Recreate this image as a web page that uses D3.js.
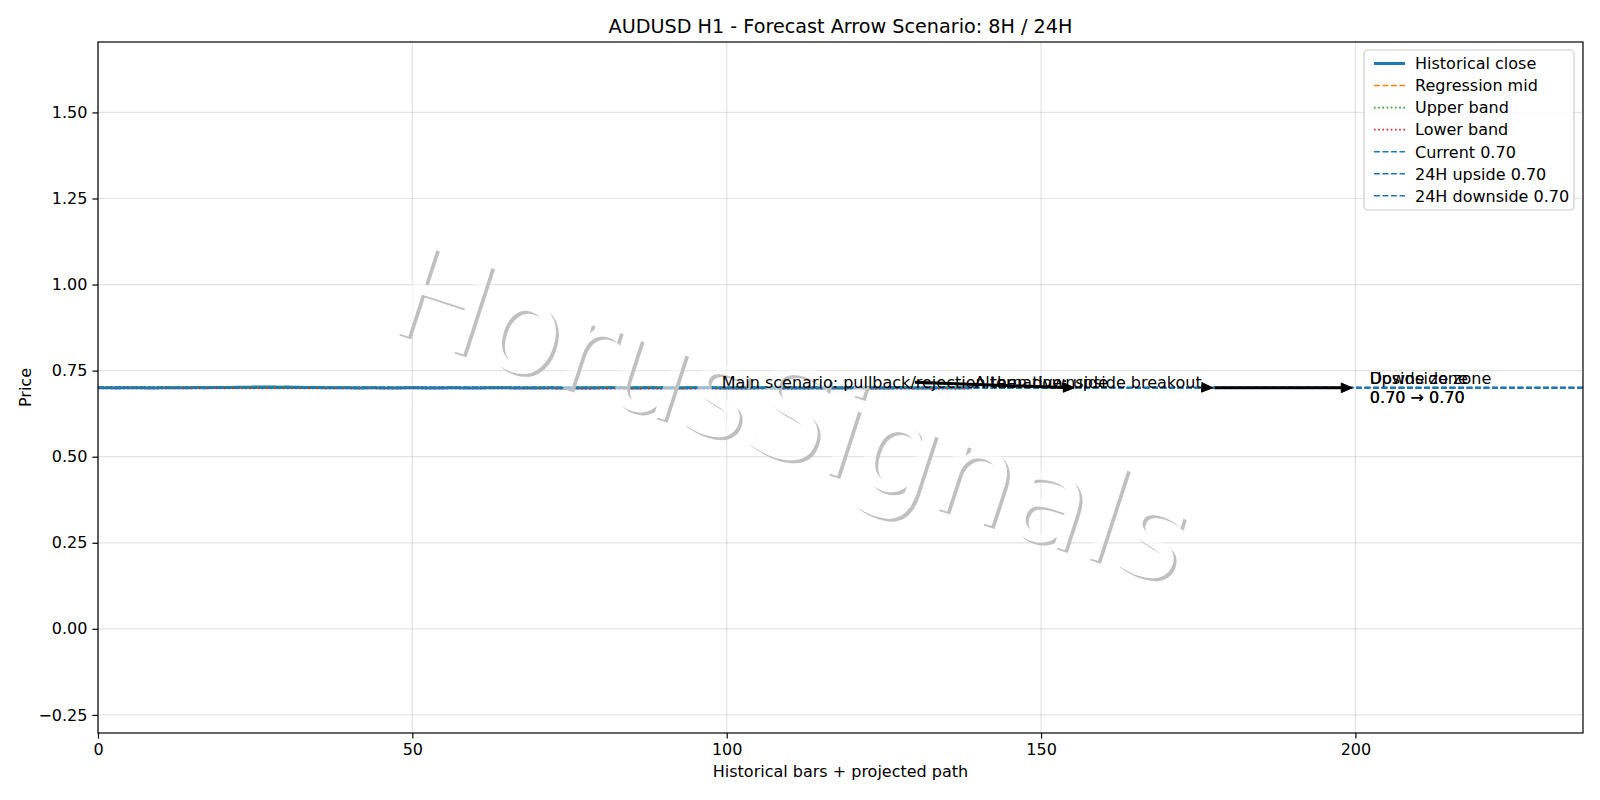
<!DOCTYPE html>
<html><head><meta charset="utf-8">
<script src="https://cdn.jsdelivr.net/npm/d3@7"></script>
<style>body{margin:0;background:#fff} svg{display:block} text{font-family:"DejaVu Sans",sans-serif}</style>
</head><body><svg id="chart" width="1600" height="800"></svg>
<script>
const chartTitle = "AUDUSD H1 - Forecast Arrow Scenario: 8H / 24H";
const xLabel = "Historical bars + projected path";
const yLabel = "Price";
const xTicks = [0, 50, 100, 150, 200];
const yTicks = [-0.25, 0, 0.25, 0.5, 0.75, 1.0, 1.25, 1.5];
const xDomain = [0, 236.2];
const yDomain = [-0.3025, 1.7045];

const historicalClose = [
0.7001,0.7002,0.7000,0.6999,0.7001,0.7003,0.7002,0.7000,0.6998,0.6999,
0.7001,0.7000,0.7002,0.7004,0.7003,0.7005,0.7007,0.7006,0.7009,0.7011,
0.7013,0.7012,0.7015,0.7017,0.7019,0.7021,0.7023,0.7024,0.7022,0.7020,
0.7021,0.7018,0.7015,0.7013,0.7010,0.7008,0.7006,0.7004,0.7003,0.7001,
0.7000,0.6998,0.6999,0.7001,0.7000,0.6998,0.6996,0.6997,0.6999,0.7000,
0.7002,0.7001,0.6999,0.6998,0.6997,0.6999,0.7000,0.7001,0.6999,0.6997,
0.6996,0.6998,0.7000,0.7002,0.7003,0.7001,0.6999,0.6998,0.6996,0.6995,
0.6997,0.6999,0.7000,0.6998,0.6997,0.6995,0.6994,0.6996,0.6998,0.6999,
0.7001,0.7003,0.7002,0.7000,0.6998,0.6997,0.6999,0.7001,0.7002,0.7000,
0.6999,0.6997,0.6996,0.6998,0.7000,0.7001,0.7003,0.7002,0.7000,0.6998,
0.6997,0.6995,0.6996,0.6998,0.6999,0.7001,0.7000,0.6998,0.6997,0.6995,
0.6994,0.6996,0.6998,0.6999,0.7000,0.6998,0.6996,0.6995,0.6997,0.6999,
0.7000,0.7001,0.6999,0.6998,0.6996,0.6997,0.6999,0.7000,0.7002,0.7001,
0.6999,0.6998,0.6997,0.6999,0.7000,0.7001,0.7000,0.6999,0.7000,0.7000
];
const regressionX = [0, 139];
const regressionMid = [0.7008, 0.6994];
const upperBand = [0.7030, 0.7016];
const lowerBand = [0.6986, 0.6972];

const currentPrice = 0.70;
const upside24 = 0.70;
const downside24 = 0.70;

const mainScenario = {text: "Main scenario: pullback/rejection then downside", textX: 99.2, textY: 0.70, x: 155.3, y: 0.70};
const altScenario = {text: "Alternative: upside breakout", textX: 139.4, textY: 0.70, x: 177.3, y: 0.70};
const pathArrows = [[177.6, 0.70, 199.5, 0.70]];
const zoneLabels = [
  {lines: ["Upside zone", "0.70 → 0.70"], x: 202.3, y: 0.70},
  {lines: ["Downside zone", "0.70 → 0.70"], x: 202.3, y: 0.70}
];
const watermarkText = "HorusSignals";

// ---------- drawing ----------
const FS = 16, TFS = 19.2;
const svg = d3.select("#chart");
const M = {left: 98, right: 1583, top: 42, bottom: 733};
const x = d3.scaleLinear().domain(xDomain).range([M.left, M.right]);
const y = d3.scaleLinear().domain(yDomain).range([M.bottom, M.top]);
const fmt2 = d3.format(".2f");
const C0 = "#1f77b4";

const defs = svg.append("defs");
defs.append("clipPath").attr("id", "plotclip").append("rect")
  .attr("x", M.left).attr("y", M.top).attr("width", M.right - M.left).attr("height", M.bottom - M.top);

// grid
const grid = svg.append("g");
grid.selectAll(".gx").data(xTicks).join("line")
  .attr("x1", d => x(d)).attr("x2", d => x(d)).attr("y1", M.top).attr("y2", M.bottom)
  .attr("stroke", "#b0b0b0").attr("stroke-opacity", 0.35).attr("stroke-width", 1.2);
grid.selectAll(".gy").data(yTicks).join("line")
  .attr("y1", d => y(d)).attr("y2", d => y(d)).attr("x1", M.left).attr("x2", M.right)
  .attr("stroke", "#b0b0b0").attr("stroke-opacity", 0.35).attr("stroke-width", 1.2);

const plot = svg.append("g").attr("clip-path", "url(#plotclip)");
const line = d3.line().x(d => x(d[0])).y(d => y(d[1]));

plot.append("path").datum(historicalClose.map((v, i) => [i, v]))
  .attr("d", line).attr("fill", "none").attr("stroke", C0).attr("stroke-width", 3);
plot.append("path").datum(regressionX.map((v, i) => [v, regressionMid[i]]))
  .attr("d", line).attr("fill", "none").attr("stroke", "#ff7f0e").attr("stroke-width", 1.6).attr("stroke-dasharray", "5.9,2.6");
plot.append("path").datum(regressionX.map((v, i) => [v, upperBand[i]]))
  .attr("d", line).attr("fill", "none").attr("stroke", "#2ca02c").attr("stroke-width", 1.6).attr("stroke-dasharray", "1.6,2.6");
plot.append("path").datum(regressionX.map((v, i) => [v, lowerBand[i]]))
  .attr("d", line).attr("fill", "none").attr("stroke", "#d62728").attr("stroke-width", 1.6).attr("stroke-dasharray", "1.6,2.6");

const levels = [currentPrice, upside24, downside24];
plot.selectAll(".lvl").data(levels).join("line")
  .attr("x1", M.left).attr("x2", M.right).attr("y1", d => y(d)).attr("y2", d => y(d))
  .attr("stroke", C0).attr("stroke-width", 2).attr("stroke-dasharray", "5.9,2.6");

// watermark
const wmCx = 792, wmCy = 415, wmRot = 18, wmSize = 127;
const mask = defs.append("mask").attr("id", "wmmask").attr("maskUnits", "userSpaceOnUse")
  .attr("x", 0).attr("y", 0).attr("width", 1600).attr("height", 800);
mask.append("rect").attr("width", 1600).attr("height", 800).attr("fill", "#fff");
mask.append("text").text(watermarkText)
  .attr("transform", `translate(${wmCx},${wmCy}) rotate(${wmRot})`)
  .attr("text-anchor", "middle").attr("dominant-baseline", "central")
  .attr("font-size", wmSize).attr("fill", "#000");
svg.append("g").attr("mask", "url(#wmmask)").append("text").text(watermarkText)
  .attr("transform", `translate(${wmCx + 3},${wmCy + 3}) rotate(${wmRot})`)
  .attr("text-anchor", "middle").attr("dominant-baseline", "central")
  .attr("font-size", wmSize).attr("fill", "#c0c0c0");
svg.append("text").text(watermarkText)
  .attr("transform", `translate(${wmCx},${wmCy}) rotate(${wmRot})`)
  .attr("text-anchor", "middle").attr("dominant-baseline", "central")
  .attr("font-size", wmSize).attr("fill", "#fff").attr("fill-opacity", 0.55);

// arrows
const ann = svg.append("g");
function arrow(x1, y1, x2, y2) {
  const dx = x2 - x1, dy = y2 - y1, L = Math.hypot(dx, dy);
  const ux = dx / L, uy = dy / L, hl = 11, hw = 4.8;
  const bx = x2 - ux * hl, by = y2 - uy * hl;
  ann.append("line").attr("x1", x1).attr("y1", y1).attr("x2", bx + ux).attr("y2", by + uy)
    .attr("stroke", "#000").attr("stroke-width", 3);
  ann.append("path").attr("d", `M${x2},${y2}L${bx - uy * hw},${by + ux * hw}L${bx + uy * hw},${by - ux * hw}Z`)
    .attr("fill", "#000").attr("stroke", "#000").attr("stroke-width", 1);
}
pathArrows.forEach(a => arrow(x(a[0]), y(a[1]), x(a[2]), y(a[3])));

function annotate(s, clip) {
  const t = ann.append("text").text(s.text).attr("x", x(s.textX)).attr("y", y(s.textY))
    .attr("font-size", FS).attr("fill", "#000");
  const b = t.node().getBBox();
  const cx = b.x + b.width / 2, cy = b.y + b.height / 2;
  const tx = x(s.x), ty = y(s.y);
  let sx = cx, sy = cy;
  if (clip) {
    sx = b.x + b.width + 3;
    sy = cy + (ty - cy) * (sx - cx) / (tx - cx);
  }
  arrow(sx, sy, tx, ty);
  t.raise();
}
annotate(mainScenario, false);
annotate(altScenario, true);

zoneLabels.forEach(z => {
  const t = ann.append("text").attr("x", x(z.x)).attr("y", y(z.y)).attr("font-size", FS).attr("fill", "#000");
  z.lines.forEach((l, i) => t.append("tspan").attr("x", x(z.x)).attr("dy", i === 0 ? -3.7 : 19.2).text(l));
});

// axes
const xAxis = svg.append("g").attr("transform", `translate(0,${M.bottom})`)
  .call(d3.axisBottom(x).tickValues(xTicks).tickFormat(d3.format("d")).tickSize(5.6).tickPadding(5));
const yAxis = svg.append("g").attr("transform", `translate(${M.left},0)`)
  .call(d3.axisLeft(y).tickValues(yTicks).tickFormat(fmt2).tickSize(5.6).tickPadding(5));
[xAxis, yAxis].forEach(a => {
  a.select(".domain").remove();
  a.selectAll("line").attr("stroke", "#000").attr("stroke-width", 1.2);
  a.selectAll("text").attr("font-size", FS).attr("fill", "#000").attr("font-family", "DejaVu Sans");
});
svg.append("rect").attr("x", M.left).attr("y", M.top).attr("width", M.right - M.left).attr("height", M.bottom - M.top)
  .attr("fill", "none").attr("stroke", "#000").attr("stroke-width", 1.2);

svg.append("text").text(chartTitle).attr("x", (M.left + M.right) / 2).attr("y", 33)
  .attr("text-anchor", "middle").attr("font-size", TFS).attr("fill", "#000");
svg.append("text").text(xLabel).attr("x", (M.left + M.right) / 2).attr("y", 777)
  .attr("text-anchor", "middle").attr("font-size", FS).attr("fill", "#000");
svg.append("text").text(yLabel).attr("transform", `translate(31,${(M.top + M.bottom) / 2}) rotate(-90)`)
  .attr("text-anchor", "middle").attr("font-size", FS).attr("fill", "#000");

// legend
const legendItems = [
  {label: "Historical close", color: C0, w: 3, dash: null},
  {label: "Regression mid", color: "#ff7f0e", w: 1.6, dash: "5.9,2.6"},
  {label: "Upper band", color: "#2ca02c", w: 1.6, dash: "1.6,2.6"},
  {label: "Lower band", color: "#d62728", w: 1.6, dash: "1.6,2.6"},
  {label: `Current ${fmt2(currentPrice)}`, color: C0, w: 1.6, dash: "5.9,2.6"},
  {label: `24H upside ${fmt2(upside24)}`, color: C0, w: 1.6, dash: "5.9,2.6"},
  {label: `24H downside ${fmt2(downside24)}`, color: C0, w: 1.6, dash: "5.9,2.6"}
];
const lg = svg.append("g");
lg.append("rect").attr("x", 1364).attr("y", 50).attr("width", 210).attr("height", 160).attr("rx", 4)
  .attr("fill", "#fff").attr("fill-opacity", 0.8).attr("stroke", "#cccccc").attr("stroke-width", 1.2);
legendItems.forEach((it, i) => {
  const cy = 63.5 + i * 22.05;
  const l = lg.append("line").attr("x1", 1374).attr("x2", 1405).attr("y1", cy).attr("y2", cy)
    .attr("stroke", it.color).attr("stroke-width", it.w);
  if (it.dash) l.attr("stroke-dasharray", it.dash);
  lg.append("text").text(it.label).attr("x", 1415).attr("y", cy + 5.8).attr("font-size", FS).attr("fill", "#000");
});
</script></body></html>
